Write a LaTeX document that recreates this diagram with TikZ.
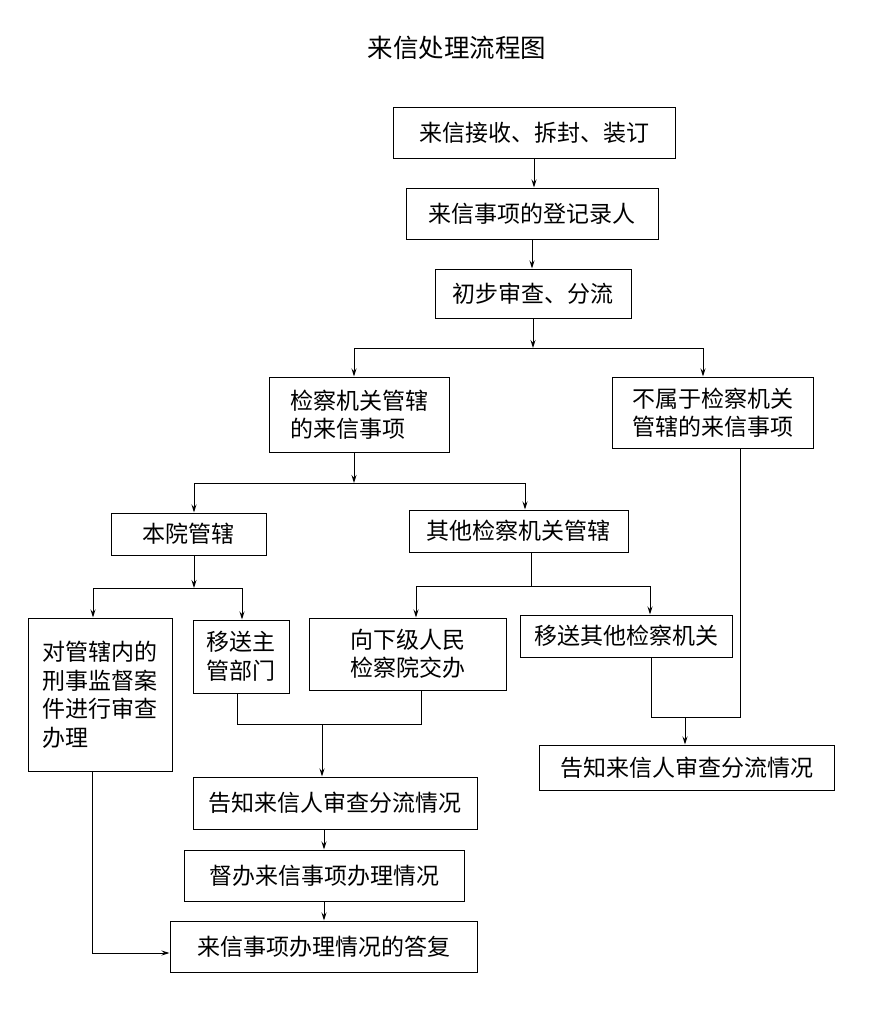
\documentclass[tikz,border=0pt]{standalone}
\usepackage{fontspec}
\setmainfont{Noto Sans CJK SC}
\usetikzlibrary{arrows.meta}
\tikzset{
  BoxStyle/.style = { draw, rectangle, line width=1pt, inner sep=0pt,
                      font = \fontsize{23}{28.5}\selectfont },
  TitleStyle/.style = { font = \fontsize{25.5}{30}\selectfont },
  EdgeStyle/.style = { -{Stealth[length=8pt,width=5pt]}, line width=1pt },
  LineStyle/.style = { line width=1pt } }

\begin{document}
\begin{tikzpicture}[x=1pt,y=-1pt]
  \useasboundingbox (0,0) rectangle (882,1015);
  \node[TitleStyle](T) at (457,48) {来信处理流程图};
  \node[BoxStyle, minimum width=282pt, minimum height=51pt](A) at (534,132.5) {来信接收、拆封、装订};
  \node[BoxStyle, minimum width=252pt, minimum height=51pt](B) at (532,213.5) {来信事项的登记录人};
  \node[BoxStyle, minimum width=196pt, minimum height=49pt](C) at (533,293.5) {初步审查、分流};
  \node[BoxStyle, minimum width=180pt, minimum height=75pt, align=left](D) at (359,414.5) {检察机关管辖\\的来信事项};
  \node[BoxStyle, minimum width=201pt, minimum height=71pt, align=left](E) at (712.5,412.5) {不属于检察机关\\管辖的来信事项};
  \node[BoxStyle, minimum width=155pt, minimum height=42pt](F) at (188.5,534) {本院管辖};
  \node[BoxStyle, minimum width=219pt, minimum height=42pt](G) at (518.5,531) {其他检察机关管辖};
  \node[BoxStyle, minimum width=144pt, minimum height=153pt, align=left](H) at (100,694.5) {对管辖内的\\刑事监督案\\件进行审查\\办理};
  \node[BoxStyle, minimum width=96pt, minimum height=73pt, align=left](I) at (241,656.5) {移送主\\管部门};
  \node[BoxStyle, minimum width=197pt, minimum height=72pt, align=center](J) at (407.5,654) {向下级人民\\检察院交办};
  \node[BoxStyle, minimum width=212pt, minimum height=42pt](K) at (626,636) {移送其他检察机关};
  \node[BoxStyle, minimum width=284pt, minimum height=52pt](L) at (335,803) {告知来信人审查分流情况};
  \node[BoxStyle, minimum width=280pt, minimum height=51pt](M) at (324,875.5) {督办来信事项办理情况};
  \node[BoxStyle, minimum width=307pt, minimum height=51pt](N) at (323.5,946.5) {来信事项办理情况的答复};
  \node[BoxStyle, minimum width=295pt, minimum height=45pt](O) at (686.5,767.5) {告知来信人审查分流情况};
  % junctions
  \coordinate (c1) at (534,348);
  \coordinate (d1) at (354,348);
  \coordinate (e1) at (703,348);
  \coordinate (f1) at (194,483);
  \coordinate (g1) at (525,483);
  \coordinate (h1) at (93,588);
  \coordinate (i1) at (242,588);
  \coordinate (g2) at (531,586);
  \coordinate (j1) at (416,586);
  \coordinate (k1) at (650,586);
  \coordinate (m1) at (237,724);
  \coordinate (m2) at (421,724);
  \coordinate (m3) at (322,724);
  \coordinate (p1) at (92,953);
  \coordinate (q1) at (651,717);
  \coordinate (q2) at (740,717);
  \coordinate (o1) at (685,717);
  \draw[EdgeStyle] (A.south) -- (A.south |- B.north);
  \draw[EdgeStyle] (B.south) -- (B.south |- C.north);
  \draw[EdgeStyle] (C.south) -- (C.south |- c1);
  \draw[LineStyle] (d1) -- (e1);
  \draw[EdgeStyle] (d1) -- (d1 |- D.north);
  \draw[EdgeStyle] (e1) -- (e1 |- E.north);
  \draw[EdgeStyle] (d1 |- D.south) -- (d1 |- f1);
  \draw[LineStyle] (f1) -- (g1);
  \draw[EdgeStyle] (f1) -- (f1 |- F.north);
  \draw[EdgeStyle] (g1) -- (g1 |- G.north);
  \draw[EdgeStyle] (f1 |- F.south) -- (f1 |- h1);
  \draw[LineStyle] (h1) -- (i1);
  \draw[EdgeStyle] (h1) -- (h1 |- H.north);
  \draw[EdgeStyle] (i1) -- (i1 |- I.north);
  \draw[LineStyle] (g2 |- G.south) -- (g2);
  \draw[LineStyle] (j1) -- (k1);
  \draw[EdgeStyle] (j1) -- (j1 |- J.north);
  \draw[EdgeStyle] (k1) -- (k1 |- K.north);
  \draw[LineStyle] (m1 |- I.south) -- (m1) -- (m2) -- (m2 |- J.south);
  \draw[EdgeStyle] (m3) -- (m3 |- L.north);
  \draw[EdgeStyle] (L.south -| M.north) -- (M.north);
  \draw[EdgeStyle] (M.south) -- (M.south |- N.north);
  \draw[EdgeStyle] (p1 |- H.south) -- (p1) -- (N.west |- p1);
  \draw[LineStyle] (q1 |- K.south) -- (q1) -- (q2) -- (q2 |- E.south);
  \draw[EdgeStyle] (o1) -- (o1 |- O.north);
\end{tikzpicture}
\end{document}
